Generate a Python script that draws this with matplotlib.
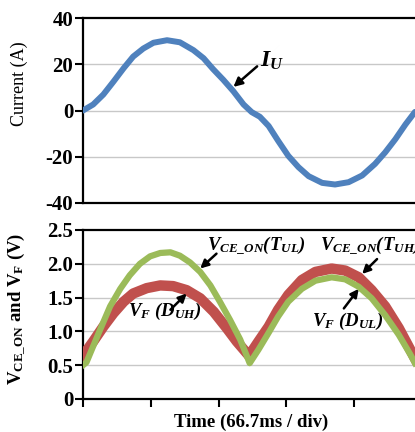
import matplotlib
matplotlib.use("Agg")
import matplotlib.pyplot as plt

plt.rcParams['font.family'] = ['Liberation Serif', 'DejaVu Serif']
plt.rcParams['mathtext.fontset'] = 'custom'
plt.rcParams['mathtext.rm'] = 'Liberation Serif:bold:italic'
plt.rcParams['mathtext.it'] = 'Liberation Serif:bold:italic'
plt.rcParams['mathtext.bf'] = 'Liberation Serif:bold'
plt.rcParams['axes.unicode_minus'] = False

# ---- data (time in divisions of 66.7 ms) ----
t_cur = [0, 0.15, 0.30, 0.45, 0.60, 0.74, 0.89, 1.04, 1.24, 1.43, 1.63, 1.78, 1.92,
         2.07, 2.22, 2.37, 2.49, 2.61, 2.74, 2.88, 3.03, 3.18, 3.33, 3.53, 3.72,
         3.92, 4.12, 4.31, 4.46, 4.61, 4.76, 4.90]
i_u = [0, 2.6, 6.9, 12.5, 18.3, 23.3, 26.8, 29.3, 30.4, 29.5, 26.1, 22.6, 17.9,
       13.3, 8.3, 2.6, -0.7, -2.7, -6.7, -13.1, -19.6, -24.5, -28.4, -31.3, -32.0,
       -31.0, -28.1, -23.1, -18.1, -12.4, -6.0, -0.6]

t_green = [0, 0.05, 0.15, 0.25, 0.40, 0.55, 0.69, 0.84, 0.99, 1.14, 1.29, 1.43, 1.58,
           1.73, 1.88, 2.02, 2.17, 2.32, 2.46, 2.59, 2.74, 2.88, 3.03, 3.23, 3.43,
           3.67, 3.87, 4.07, 4.26, 4.46, 4.66, 4.83, 4.90]
v_green = [0.50, 0.54, 0.78, 1.02, 1.37, 1.63, 1.83, 2.00, 2.11, 2.16, 2.17, 2.12, 2.02,
           1.88, 1.68, 1.44, 1.17, 0.88, 0.53, 0.73, 0.98, 1.22, 1.44, 1.63, 1.75,
           1.80, 1.77, 1.66, 1.49, 1.24, 0.95, 0.66, 0.53]

t_red = [0, 0.05, 0.15, 0.30, 0.45, 0.60, 0.74, 0.94, 1.14, 1.33, 1.53, 1.73, 1.93,
         2.12, 2.27, 2.45, 2.59, 2.74, 2.88, 3.03, 3.23, 3.43, 3.67, 3.87, 4.07,
         4.26, 4.46, 4.66, 4.83, 4.90]
v_red = [0.62, 0.71, 0.85, 1.07, 1.27, 1.44, 1.56, 1.64, 1.68, 1.67, 1.61, 1.49, 1.29,
         1.05, 0.85, 0.64, 0.85, 1.07, 1.32, 1.54, 1.76, 1.88, 1.93, 1.90, 1.80,
         1.61, 1.37, 1.05, 0.73, 0.60]

cur_ticks = [-40, -20, 0, 20, 40]
cur_labels = ['-40', '-20', '0', '20', '40']
v_ticks = [0, 0.5, 1.0, 1.5, 2.0, 2.5]
v_labels = ['0', '0.5', '1.0', '1.5', '2.0', '2.5']
x_ticks = [0, 1, 2, 3, 4]

BLUE = '#4f81bd'
GREEN = '#9bbb59'
RED = '#c0504d'
GRID = '#c8c8c8'

fig = plt.figure(figsize=(4.15, 4.32), dpi=100)
ax1 = fig.add_axes([0.2, 0.5301, 0.8, 0.4282])
ax2 = fig.add_axes([0.2, 0.0764, 0.8, 0.3912])

def style(ax, yticks, ylabels, ylim):
    ax.set_xlim(0, 4.9)
    ax.set_ylim(*ylim)
    ax.spines['right'].set_visible(False)
    for s in ['left', 'top', 'bottom']:
        ax.spines[s].set_linewidth(1.6)
        ax.spines[s].set_color('black')
    ax.set_yticks(yticks)
    ax.set_yticklabels(ylabels, fontsize=15, fontweight='bold')
    ax.tick_params(axis='y', direction='out', length=6, width=1.5, pad=1)
    for y in yticks[1:-1]:
        ax.axhline(y, color=GRID, lw=1.0, zorder=0)

style(ax1, cur_ticks, cur_labels, (-40, 40))
ax1.set_xticks([])
ax1.plot(t_cur, i_u, color=BLUE, lw=4.3, solid_capstyle='round',
         solid_joinstyle='round', zorder=3)
ax1.set_ylabel('Current (A)', fontsize=13)
ax1.yaxis.set_label_coords(-0.166, 0.643)
ax1.annotate('', xy=(2.22, 10.2), xytext=(2.57, 19.1),
             arrowprops=dict(arrowstyle='-|>', lw=1.8, color='k',
                             mutation_scale=13, shrinkA=0, shrinkB=0))
ax1.text(2.61, 21.3, r'$I_U$', fontsize=17, ha='left', va='center')

style(ax2, v_ticks, v_labels, (0, 2.5))
ax2.set_xticks(x_ticks)
ax2.set_xticklabels([])
ax2.tick_params(axis='x', direction='out', length=6, width=1.5)
ax2.plot(t_red, v_red, color=RED, lw=7.5, solid_joinstyle='round', zorder=3)
ax2.plot(t_green, v_green, color=GREEN, lw=4.5, solid_joinstyle='round', zorder=4)
ax2.set_xlabel('Time (66.7ms / div)', fontsize=13.5, fontweight='bold')
ax2.xaxis.set_label_coords(0.506, -0.085)
ax2.set_ylabel(r'V$_{\mathbf{CE\_ON}}$ and V$_{\mathbf{F}}$ (V)', fontsize=13.5,
               fontweight='bold')
ax2.yaxis.set_label_coords(-0.166, 0.535)

arrow = dict(arrowstyle='-|>', lw=1.8, color='k', mutation_scale=12,
             shrinkA=0, shrinkB=0)
ax2.annotate('', xy=(1.73, 1.93), xytext=(1.97, 2.15), arrowprops=arrow)
ax2.annotate('', xy=(4.12, 1.85), xytext=(4.34, 2.07), arrowprops=arrow)
ax2.annotate('', xy=(1.53, 1.56), xytext=(1.29, 1.32), arrowprops=arrow)
ax2.annotate('', xy=(4.07, 1.63), xytext=(3.85, 1.34), arrowprops=arrow)

ax2.text(1.83, 2.27, r'$V_{CE\_ON}(T_{UL})$', fontsize=13.5, ha='left', va='center')
ax2.text(3.50, 2.27, r'$V_{CE\_ON}(T_{UH})$', fontsize=13.5, ha='left', va='center')
ax2.text(0.66, 1.29, r'$V_F\ (D_{UH})$', fontsize=13.5, ha='left', va='center')
ax2.text(3.38, 1.15, r'$V_F\ (D_{UL})$', fontsize=13.5, ha='left', va='center')

fig.savefig('out.png', dpi=100)
